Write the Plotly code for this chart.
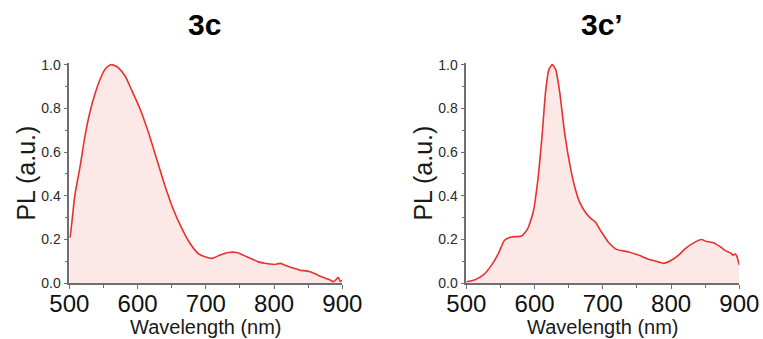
import plotly.graph_objects as go

# PL spectrum of 3c (normalised)
wl_3c = [500, 501, 508, 516, 523, 530, 538, 545, 552, 557, 562, 567, 572, 582, 591, 604,
         616, 628, 640, 652, 665, 677, 689, 699, 709, 721, 733, 745, 752, 760, 770, 777,
         786, 794, 801, 809, 816, 823, 830, 838, 845, 853, 860, 867, 873, 880, 884,
         887, 890, 894, 897, 900]
pl_3c = [0.21, 0.212, 0.40, 0.538, 0.674, 0.78, 0.87, 0.932, 0.977, 0.993, 1.0, 0.995,
         0.985, 0.947, 0.886, 0.795, 0.689, 0.568, 0.447, 0.341, 0.25, 0.182, 0.136,
         0.121, 0.114, 0.129, 0.141, 0.141, 0.133, 0.121, 0.108, 0.098, 0.092, 0.088,
         0.086, 0.091, 0.083, 0.075, 0.068, 0.06, 0.057, 0.053, 0.044, 0.033, 0.026,
         0.018, 0.012, 0.007, 0.014, 0.027, 0.008, 0.015]

# PL spectrum of 3c' (normalised)
wl_3cp = [500, 512, 525, 537, 547, 556, 566, 581, 590, 598, 605, 611, 616, 621, 626,
          631, 637, 644, 652, 659, 666, 676, 683, 689, 698, 708, 720, 737, 752, 767,
          781, 789, 799, 811, 821, 833, 845, 851, 857, 862, 867, 872, 877, 882, 887,
          891, 894, 897, 900]
pl_3cp = [0.007, 0.015, 0.038, 0.083, 0.136, 0.197, 0.212, 0.216, 0.25, 0.325, 0.477,
          0.674, 0.871, 0.977, 1.0, 0.977, 0.871, 0.689, 0.538, 0.439, 0.371, 0.318,
          0.295, 0.28, 0.235, 0.189, 0.155, 0.144, 0.129, 0.11, 0.098, 0.091, 0.103,
          0.129, 0.159, 0.185, 0.2, 0.192, 0.189, 0.185, 0.177, 0.168, 0.155, 0.146,
          0.139, 0.128, 0.135, 0.118, 0.083]

panel_titles = ["3c", "3c\u2019"]
x_ticks = [500, 600, 700, 800, 900]
y_ticks = [0.0, 0.2, 0.4, 0.6, 0.8, 1.0]

W, H = 763, 339
LINE = "#e8312e"
FILL = "rgba(252, 214, 214, 0.55)"
AXIS = "#6e6e6e"
FONT = "Liberation Sans, Arial, sans-serif"

# plot-area pixel geometry
px_left = [(69.3, 342.3), (466.3, 739.3)]
py_top, py_bot = 63.3, 283.3

fig = go.Figure()
series = [(wl_3c, pl_3c), (wl_3cp, pl_3cp)]
for i, (wl, pl) in enumerate(series):
    sfx = "" if i == 0 else "2"
    fig.add_trace(go.Scatter(
        x=wl, y=pl, mode="lines", fill="tozeroy", fillcolor=FILL,
        line=dict(color=LINE, width=1.6, shape="spline", smoothing=0.5),
        xaxis="x" + sfx, yaxis="y" + sfx, showlegend=False, hoverinfo="skip"))

ydom = [1 - py_bot / H, 1 - py_top / H]
axis_common = dict(showgrid=False, zeroline=False, showline=True, linecolor=AXIS,
                   linewidth=1.5, ticks="outside", tickcolor=AXIS, tickwidth=1.2,
                   automargin=False)
layout = dict(width=W, height=H, margin=dict(l=0, r=0, t=0, b=0),
              paper_bgcolor="white", plot_bgcolor="white",
              font=dict(family=FONT, color="#1a1a1a"))
for i, (x0, x1) in enumerate(px_left):
    sfx = "" if i == 0 else "2"
    layout["xaxis" + sfx] = dict(
        axis_common, domain=[x0 / W, x1 / W], range=[500, 900], tickvals=x_ticks,
        ticklen=4, anchor="y" + sfx, tickfont=dict(size=24, color="#111"),
        ticklabelstandoff=-6,
        minor=dict(dtick=50, tick0=500, ticks="outside", ticklen=3, tickcolor=AXIS))
    layout["yaxis" + sfx] = dict(
        axis_common, domain=ydom, range=[0, 1.006], tickvals=y_ticks,
        ticktext=["%.1f" % v for v in y_ticks], ticklen=4, anchor="x" + sfx,
        tickfont=dict(size=14, color="#2a2a2a"),
        minor=dict(dtick=0.1, tick0=0, ticks="outside", ticklen=3, tickcolor=AXIS))
fig.update_layout(**layout)

annotations = []
for i, (x0, x1) in enumerate(px_left):
    cx = (x0 + x1) / 2
    annotations.append(dict(text="<b>%s</b>" % panel_titles[i], x=(cx - 1) / W,
                            y=1 - 24 / H, xref="paper", yref="paper", showarrow=False,
                            font=dict(size=30, color="#000"), xanchor="center",
                            yanchor="middle"))
    annotations.append(dict(text="Wavelength (nm)", x=cx / W, y=1 - 327 / H,
                            xref="paper", yref="paper", showarrow=False,
                            font=dict(size=20, color="#1a1a1a"), xanchor="center",
                            yanchor="middle"))
    annotations.append(dict(text="PL (a.u.)", x=(x0 - 43) / W,
                            y=1 - (py_top + py_bot) / 2 / H, xref="paper",
                            yref="paper", showarrow=False, textangle=-90,
                            font=dict(size=25, color="#1a1a1a"), xanchor="center",
                            yanchor="middle"))
fig.update_layout(annotations=annotations)

fig.write_html("out.html")
